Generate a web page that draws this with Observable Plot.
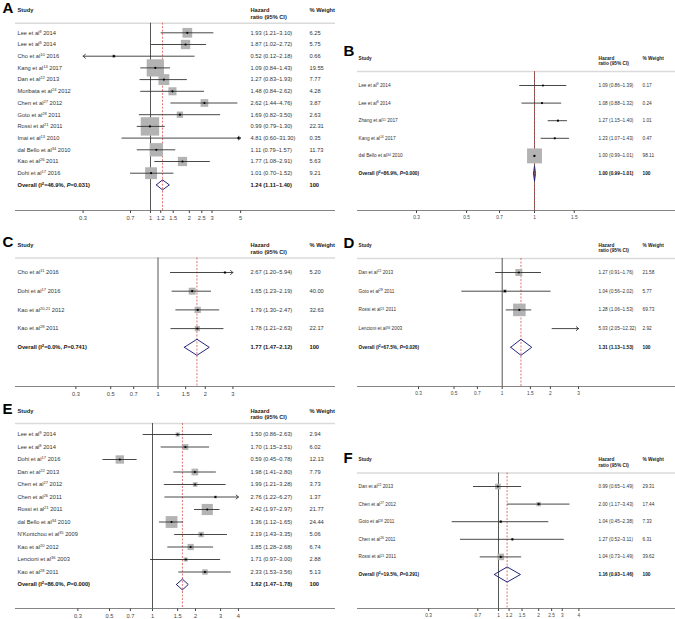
<!DOCTYPE html>
<html><head><meta charset="utf-8">
<script src="https://cdn.jsdelivr.net/npm/d3@7"></script>
<script src="https://cdn.jsdelivr.net/npm/@observablehq/plot@0.6"></script>
<style>
body{margin:0;background:#fff;}
#chart{position:relative;width:675px;height:619px;background:#fff;overflow:hidden;}
#chart svg{position:absolute;}
</style></head><body><div id="chart"></div>
<script>
// ---------- Panel A ----------
const aStudy = ["Lee et al^9 2014","Lee et al^8 2014","Cho et al^10 2016","Kang et al^14 2017","Dan et al^22 2013","Moribata et al^24 2012","Chen et al^27 2012","Goto et al^28 2011","Rossi et al^21 2011","Imai et al^13 2010","dal Bello et al^34 2010","Kao et al^26 2011","Dohi et al^17 2016"];
const aHR = [1.93,1.87,0.52,1.09,1.27,1.48,2.62,1.69,0.99,4.81,1.11,1.77,1.01];
const aLo = [1.21,1.02,0.12,0.84,0.83,0.84,1.44,0.82,0.79,0.60,0.79,1.08,0.70];
const aHi = [3.10,2.72,2.18,1.43,1.93,2.62,4.76,3.50,1.30,31.30,1.57,2.91,1.52];
const aWt = [6.25,5.75,0.66,19.55,7.77,4.28,3.87,2.63,22.31,0.35,11.73,5.63,9.21];
const aPooled = [1.24,1.11,1.40];
const aHet = ["46.9%","0.031"];
const aTicks = [0.3,0.7,1,1.2,1.5,2,2.5,3,5];
// ---------- Panel B ----------
const bStudy = ["Lee et al^9 2014","Lee et al^8 2014","Zhang et al^11 2017","Kang et al^14 2017","dal Bello et al^34 2010"];
const bHR = [1.09,1.08,1.27,1.23,1.00];
const bLo = [0.86,0.88,1.15,1.07,0.99];
const bHi = [1.39,1.32,1.40,1.43,1.01];
const bWt = [0.17,0.24,1.01,0.47,98.11];
const bPooled = [1.00,0.99,1.01];
const bHet = ["86.9%","0.000"];
const bTicks = [0.3,0.5,0.7,1,1.5];
// ---------- Panel C ----------
const cStudy = ["Cho et al^11 2016","Dohi et al^17 2016","Kao et al^20,21 2012","Kao et al^28 2011"];
const cHR = [2.67,1.65,1.79,1.78];
const cLo = [1.20,1.23,1.30,1.21];
const cHi = [5.94,2.19,2.47,2.63];
const cWt = [5.20,40.00,32.63,22.17];
const cPooled = [1.77,1.47,2.12];
const cHet = ["0.0%","0.741"];
const cTicks = [0.3,0.5,0.7,1,1.5,2,3];
// ---------- Panel D ----------
const dStudy = ["Dan et al^22 2013","Goto et al^28 2011","Rossi et al^21 2011","Lencioni et al^36 2003"];
const dHR = [1.27,1.04,1.28,5.03];
const dLo = [0.91,0.56,1.06,2.05];
const dHi = [1.76,2.02,1.53,12.32];
const dWt = [21.58,5.77,69.73,2.92];
const dPooled = [1.31,1.13,1.53];
const dHet = ["67.5%","0.026"];
const dTicks = [0.3,0.5,0.7,1,1.5,2,3];
// ---------- Panel E ----------
const eStudy = ["Lee et al^9 2014","Lee et al^8 2014","Dohi et al^17 2016","Dan et al^22 2013","Chen et al^27 2012","Chen et al^26 2011","Rossi et al^21 2011","dal Bello et al^34 2010","N'Kontchou et al^35 2009","Kao et al^20 2012","Lencioni et al^36 2003","Kao et al^28 2011"];
const eHR = [1.50,1.70,0.59,1.98,1.99,2.76,2.42,1.36,2.19,1.85,1.71,2.33];
const eLo = [0.86,1.15,0.45,1.41,1.21,1.22,1.97,1.12,1.43,1.28,0.97,1.53];
const eHi = [2.63,2.51,0.78,2.80,3.28,6.27,2.97,1.65,3.35,2.68,3.00,3.56];
const eWt = [2.94,6.02,12.13,7.79,3.73,1.37,21.77,24.44,5.06,6.74,2.88,5.13];
const ePooled = [1.62,1.47,1.78];
const eHet = ["86.0%","0.000"];
const eTicks = [0.3,0.5,0.7,1,1.5,2,3,4];
// ---------- Panel F ----------
const fStudy = ["Dan et al^22 2013","Chen et al^27 2012","Goto et al^28 2011","Chen et al^26 2011","Rossi et al^21 2011"];
const fHR = [0.99,2.00,1.04,1.27,1.04];
const fLo = [0.65,1.17,0.45,0.52,0.73];
const fHi = [1.49,3.43,2.38,3.11,1.49];
const fWt = [29.31,17.44,7.33,6.31,39.62];
const fPooled = [1.16,0.93,1.46];
const fHet = ["19.5%","0.291"];
const fTicks = [0.3,0.7,1,1.2,1.5,2,2.5,3,4];

const panels = [
  {key:"A", study:aStudy, hr:aHR, lo:aLo, hi:aHi, wt:aWt, pooled:aPooled, het:aHet, ticks:aTicks},
  {key:"B", study:bStudy, hr:bHR, lo:bLo, hi:bHi, wt:bWt, pooled:bPooled, het:bHet, ticks:bTicks},
  {key:"C", study:cStudy, hr:cHR, lo:cLo, hi:cHi, wt:cWt, pooled:cPooled, het:cHet, ticks:cTicks},
  {key:"D", study:dStudy, hr:dHR, lo:dLo, hi:dHi, wt:dWt, pooled:dPooled, het:dHet, ticks:dTicks},
  {key:"E", study:eStudy, hr:eHR, lo:eLo, hi:eHi, wt:eWt, pooled:ePooled, het:eHet, ticks:eTicks},
  {key:"F", study:fStudy, hr:fHR, lo:fLo, hi:fHi, wt:fWt, pooled:fPooled, het:fHet, ticks:fTicks}
];

// layout (page pixel coordinates)
const L_LEFT = {studyX:17, hrX:250, wtX:309, letterX:2, frameLeft:15, left:0, width:335, fs:5.7};
const L_RIGHT = {studyX:358, hrX:598, wtX:642, letterX:343, frameLeft:17, left:340, width:335, fs:4.75};
const layout = {
  A:{...L_LEFT,  top:0,   height:228, sep:22.7,  row0:32.3, step:11.7, axis:210, one:150,   slope:56,   r100:22,  letterDy:-10},
  B:{...L_RIGHT, top:0,   height:228, sep:71,    row0:85,   step:17.6, axis:210, one:534,   slope:98,   r100:8.5, letterDy:-16},
  C:{...L_LEFT,  top:228, height:175, sep:257.5, row0:272,  step:18.7, axis:386, one:157.5, slope:68.2, r100:6.2, letterDy:-11},
  D:{...L_RIGHT, top:228, height:175, sep:258,   row0:272,  step:18.7, axis:386, one:501.7, slope:69.5, r100:8.5, letterDy:-11},
  E:{...L_LEFT,  top:403, height:216, sep:423,   row0:434,  step:12.5, axis:608, one:152,   slope:62,   r100:13.5, letterDy:-10},
  F:{...L_RIGHT, top:403, height:216, sep:472.5, row0:486,  step:17.6, axis:608, one:498,   slope:58,   r100:5.9, letterDy:-10}
};

const FONT = "'Liberation Sans', Arial, Helvetica, sans-serif";
const fmt = d3.format(".2f");
const ciText = d => `${fmt(d.hr)} (${fmt(d.lo)}\u2013${fmt(d.hi)})`;
const NS = "http://www.w3.org/2000/svg";

function enrich(svg, fs) {
  const sh = (fs * 0.34).toFixed(2);
  svg.querySelectorAll("text").forEach(t => {
    if (t.querySelector("tspan")) return;
    const s = t.textContent;
    if (!/\^|P=/.test(s)) return;
    t.textContent = "";
    const re = /\^([0-9,]+)|\bP(?==)/g;
    let last = 0, m, shifted = false;
    const add = (str, attrs) => {
      const ts = document.createElementNS(NS, "tspan");
      ts.textContent = str;
      for (const k in attrs) ts.setAttribute(k, attrs[k]);
      t.appendChild(ts);
    };
    while ((m = re.exec(s))) {
      if (m.index > last) { add(s.slice(last, m.index), shifted ? {dy: sh} : {}); shifted = false; }
      if (m[1]) { add(m[1], {dy: "-" + sh, "font-size": "72%"}); shifted = true; }
      else { add("P", {"font-style": "italic"}); }
      last = re.lastIndex;
    }
    if (last < s.length) add(s.slice(last), shifted ? {dy: sh} : {});
  });
}

const chart = document.getElementById("chart");

for (const p of panels) {
  const L = layout[p.key];
  const n = p.study.length;
  const rows = p.study.map((s, i) => ({i, label: s, hr: p.hr[i], lo: p.lo[i], hi: p.hi[i], w: p.wt[i]}));
  const [dmin, dmax] = d3.extent(p.ticks);
  const inD = rows.filter(d => d.hr >= dmin && d.hr <= dmax);
  const plain = rows.filter(d => d.lo >= dmin && d.hi <= dmax);
  const clipped = rows.filter(d => d.lo < dmin || d.hi > dmax)
    .map(d => d.hi > dmax ? {i: d.i, from: Math.max(d.lo, dmin), to: dmax} : {i: d.i, from: Math.min(d.hi, dmax), to: dmin});
  const ov = {i: n, hr: p.pooled[0], lo: p.pooled[1], hi: p.pooled[2], w: Math.round(d3.sum(p.wt))};
  const half = 0.43;
  const diamond = [
    {x: ov.lo, y: n}, {x: ov.hr, y: n - half}, {x: ov.hi, y: n}, {x: ov.hr, y: n + half}, {x: ov.lo, y: n}
  ];

  const marginTop = L.sep - L.top;
  const marginBottom = L.top + L.height - L.axis;
  const yTop = (L.sep - L.row0) / L.step;
  const yBot = (L.axis - L.row0) / L.step;
  const px = v => L.one - L.left + L.slope * Math.log(v);
  const dxStudy = L.studyX - L.left - L.frameLeft;
  const dxHR = L.hrX - L.left - L.frameLeft;
  const dxWt = L.wtX - L.left - L.frameLeft;
  const dxLetter = L.letterX - L.left - L.frameLeft;
  const rowText = {frameAnchor: "left", textAnchor: "start", y: "i"};
  const head = {frameAnchor: "top-left", textAnchor: "start", lineAnchor: "top", dy: -15.5, fontWeight: "bold", fill: "#222", text: d => d, lineHeight: 1.15};

  const svg = Plot.plot({
    width: L.width, height: L.height,
    marginTop, marginBottom, marginLeft: L.frameLeft, marginRight: 0,
    style: {fontFamily: FONT, fontSize: L.fs + "px", background: "transparent", color: "#444", overflow: "visible"},
    x: {type: "log", domain: [dmin, dmax], range: [px(dmin), px(dmax)], ticks: p.ticks, tickFormat: d => String(d), tickSize: 3, tickPadding: 2.5, label: null},
    y: {domain: [yTop, yBot], range: [marginTop, L.height - marginBottom], axis: null},
    r: {type: "sqrt", domain: [0, 100], range: [0, L.r100]},
    marks: [
      Plot.ruleY([yTop], {stroke: "#dadada", strokeWidth: 1.5}),
      Plot.ruleY([yBot], {stroke: "#666", strokeWidth: 0.8}),
      Plot.ruleX([1], {stroke: "#555", strokeWidth: 1}),
      Plot.ruleX([ov.hr], {stroke: "#d9534f", strokeWidth: 0.8, strokeDasharray: "2,1.5"}),
      Plot.dot(inD, {x: "hr", y: "i", r: "w", symbol: "square", fill: "#b3b3b3"}),
      Plot.ruleY(plain, {y: "i", x1: "lo", x2: "hi", stroke: "#333", strokeWidth: 0.9}),
      Plot.arrow(clipped, {x1: "from", x2: "to", y1: "i", y2: "i", stroke: "#333", strokeWidth: 0.9, headLength: 5, headAngle: 80}),
      Plot.dot(inD, {x: "hr", y: "i", r: 1.1, fill: "#000"}),
      Plot.line(diamond, {x: "x", y: "y", stroke: "#25257d", strokeWidth: 1}),
      Plot.text(rows, {...rowText, text: "label", dx: dxStudy, fill: "#333"}),
      Plot.text(rows, {...rowText, text: ciText, dx: dxHR, fill: "#333"}),
      Plot.text(rows, {...rowText, text: d => fmt(d.w), dx: dxWt, fill: "#333"}),
      Plot.text([ov], {...rowText, text: () => `Overall (I^2=${p.het[0]}, P=${p.het[1]})`, dx: dxStudy, fontWeight: "bold", fill: "#111"}),
      Plot.text([ov], {...rowText, text: ciText, dx: dxHR, fontWeight: "bold", fill: "#111"}),
      Plot.text([ov], {...rowText, text: d => String(d.w), dx: dxWt, fontWeight: "bold", fill: "#111"}),
      Plot.text(["Study"], {...head, dx: dxStudy}),
      Plot.text(["Hazard\nratio (95% CI)"], {...head, dx: dxHR}),
      Plot.text(["% Weight"], {...head, dx: dxWt}),
      Plot.text([p.key], {frameAnchor: "top-left", textAnchor: "start", lineAnchor: "bottom", text: d => d, dx: dxLetter, dy: L.letterDy, fontSize: 15, fontWeight: "bold", fill: "#000"})
    ]
  });
  enrich(svg, L.fs);
  svg.style.left = L.left + "px";
  svg.style.top = L.top + "px";
  chart.appendChild(svg);
}
</script>
</body></html>
